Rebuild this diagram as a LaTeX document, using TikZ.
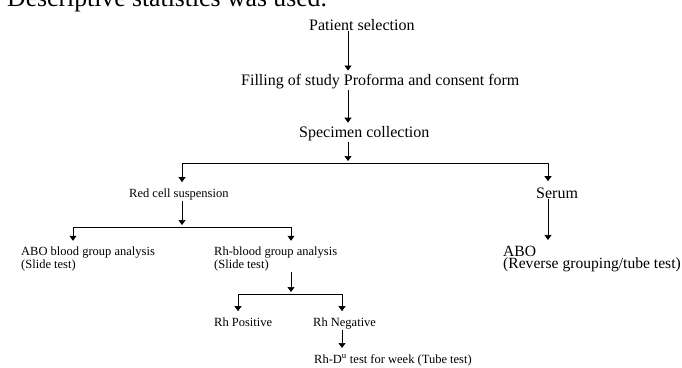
\documentclass[tikz,border=0pt]{standalone}
\usepackage{fontspec}
\setmainfont{Liberation Serif}
\usetikzlibrary{arrows.meta}
\begin{document}
\begin{tikzpicture}[x=1pt,y=-1pt,
  big/.style={inner sep=1pt,anchor=base west,align=left,font=\fontsize{16}{11.5}\selectfont},
  small/.style={inner sep=1pt,anchor=base west,align=left,font=\fontsize{12.5}{11}\selectfont},
  arr/.style={-{Triangle[length=5pt,width=7pt]},line width=0.7pt},
  branch/.style={arr,shorten >=5pt}]
\useasboundingbox (0,0) rectangle (682,367);
\clip (0,0) rectangle (682,367);
\node[anchor=base west,inner sep=0pt,font=\fontsize{25.7}{30}\selectfont] (top) at (7,6) {Descriptive statistics was used.};
\node[big] (pat) at (308,30) {Patient selection};
\node[big] (fill) at (240,85) {Filling of study Proforma and consent form};
\node[big] (spec) at (298,137) {Specimen collection};
\node[small] (red) at (128,197) {Red cell suspension};
\node[big] (serum) at (535,198) {Serum};
\node[big,font=\fontsize{15.6}{11.5}\selectfont] (abo) at (502,268) {ABO\\(Reverse grouping/tube test)};
\node[small] (abog) at (20,268) {ABO blood group analysis\\(Slide test)};
\node[small] (rhg) at (213,268) {Rh-blood group analysis\\(Slide test)};
\node[small] (pos) at (213,326) {Rh Positive};
\node[small] (neg) at (312,326) {Rh Negative};
\node[small] (du) at (313,363) {Rh-D\textsuperscript{u} test for week (Tube test)};
\coordinate (s1) at (348,163);
\coordinate (b1l) at (182,163);
\coordinate (b1r) at (548,163);
\coordinate (b2l) at (73,227);
\coordinate (b2r) at (291,227);
\coordinate (b3l) at (238,294);
\coordinate (b3r) at (342,294);
\draw[arr,shorten >=2pt] (pat.south -| s1) -- (fill.north -| s1);
\draw[arr,shorten >=2pt] (fill.south -| s1) -- (spec.north -| s1);
\draw[arr,shorten >=2pt] (spec.south -| s1) -- (s1);
\draw[line width=0.7pt] (b1l) -- (b1r);
\draw[branch] (b1l) -- (b1l |- red.north);
\draw[branch] (b1r) -- (b1r |- serum.north);
\draw[branch] (serum.south -| b1r) -- (abo.north -| b1r);
\draw[arr,shorten >=2pt] (red.south -| b1l) -- (b1l |- b2l);
\draw[line width=0.7pt] (b2l) -- (b2r);
\draw[branch] (b2l) -- (b2l |- abog.north);
\draw[branch] (b2r) -- (b2r |- rhg.north);
\draw[arr,shorten >=2pt] (rhg.south -| b2r) -- (b2r |- b3l);
\draw[line width=0.7pt] (b3l) -- (b3r);
\draw[branch] (b3l) -- (b3l |- pos.north);
\draw[branch] (b3r) -- (b3r |- neg.north);
\draw[branch] (neg.south -| b3r) -- (du.north -| b3r);
\end{tikzpicture}
\end{document}
